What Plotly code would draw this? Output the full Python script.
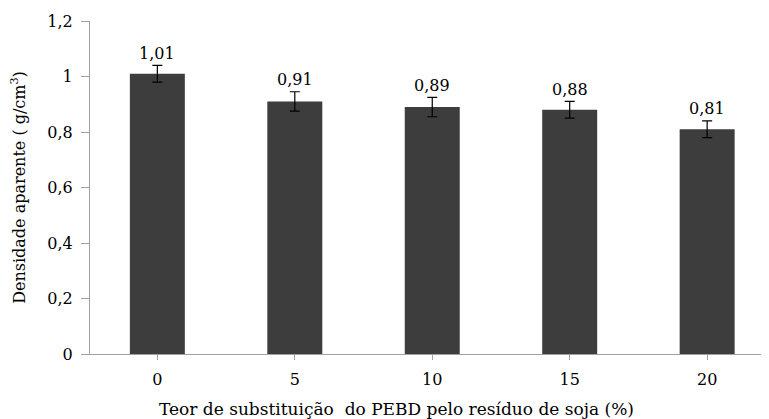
import plotly.graph_objects as go

categories = ["0", "5", "10", "15", "20"]
values = [1.01, 0.91, 0.89, 0.88, 0.81]
errors = [0.03, 0.035, 0.035, 0.03, 0.03]
labels = ["1,01", "0,91", "0,89", "0,88", "0,81"]
y_ticks = [0, 0.2, 0.4, 0.6, 0.8, 1.0, 1.2]
y_tick_text = ["0", "0,2", "0,4", "0,6", "0,8", "1", "1,2"]

font = "DejaVu Serif"
FS = 16

fig = go.Figure()
fig.add_trace(go.Bar(
    x=list(range(len(categories))), y=values,
    marker=dict(color="#3d3d3d", line=dict(width=0)),
    width=0.4,
    error_y=dict(type="data", array=errors, visible=True, color="#000000", thickness=1.2, width=5),
    hoverinfo="skip",
))
for i, (v, e, t) in enumerate(zip(values, errors, labels)):
    fig.add_annotation(x=i, y=v + e, text=t, showarrow=False, yshift=12,
                       font=dict(family=font, size=FS, color="#000"))

fig.add_annotation(x=0.452, xref="paper", y=-0.165, yref="paper",
                   xanchor="center", yanchor="middle", showarrow=False,
                   text="Teor de substituição&nbsp;&nbsp;do PEBD pelo resíduo de soja (%)",
                   font=dict(family=font, size=17, color="#000"))

fig.update_layout(
    width=761, height=411,
    margin=dict(l=82, r=0, t=13, b=65),
    paper_bgcolor="white", plot_bgcolor="white",
    showlegend=False,
    font=dict(family=font, size=FS, color="#000"),
    xaxis=dict(
        range=[-0.49, 4.45],
        tickmode="array", tickvals=list(range(len(categories))), ticktext=categories,
        tickson="boundaries", ticks="outside", ticklen=5, tickcolor="#a0a0a0", ticklabelstandoff=6,
        showline=True, linecolor="#a0a0a0", linewidth=1, showgrid=False, zeroline=False,
        tickfont=dict(family=font, size=FS),
    ),
    yaxis=dict(
        range=[0, 1.2],
        tickmode="array", tickvals=y_ticks, ticktext=y_tick_text,
        ticks="outside", ticklen=8, tickcolor="#a0a0a0", ticklabelstandoff=5,
        showline=True, linecolor="#a0a0a0", linewidth=1, showgrid=False, zeroline=False,
        title=dict(text="Densidade aparente ( g/cm<sup>3</sup>)", standoff=18,
                   font=dict(family=font, size=FS)),
        tickfont=dict(family=font, size=FS),
    ),
)

fig.write_html("out.html")
